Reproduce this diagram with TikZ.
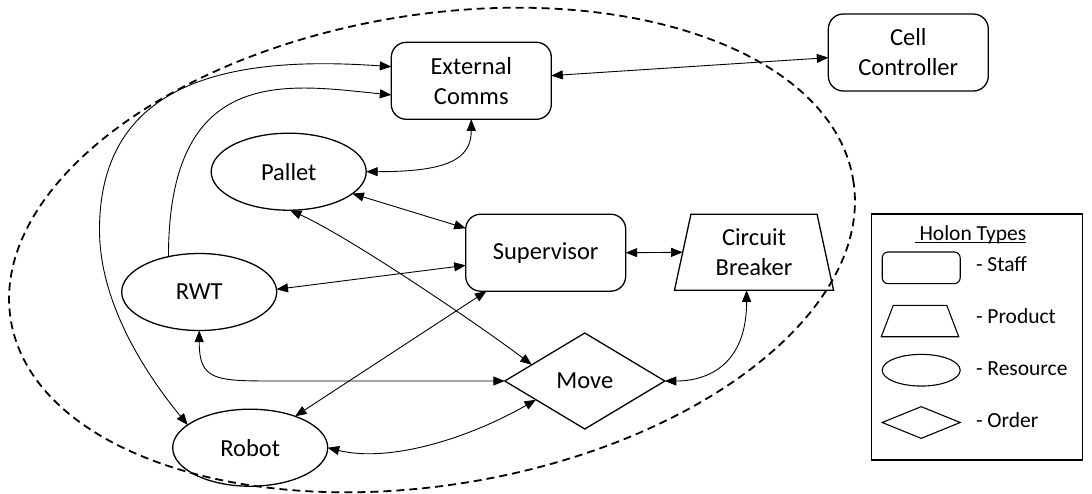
\documentclass[tikz,border=0pt]{standalone}
\usepackage{fontspec}
\setmainfont{Carlito}
\usetikzlibrary{shapes.geometric, arrows.meta}

% underline drawn at a fixed offset below the baseline
\newcommand\holonul[1]{\setbox0=\hbox{#1}\rlap{\rule[-2.6pt]{\wd0}{1.1pt}}\box0}

\begin{document}
\begin{tikzpicture}[x=1pt, y=-1pt,
  every node/.style={inner sep=0pt, outer sep=0pt},
  lbl/.style={font=\fontsize{24.5}{30}\selectfont, align=center},
  border/.style={draw, line width=1.3pt},
  staff/.style={lbl, border, rectangle, rounded corners=15pt,
                minimum width=160pt, minimum height=77pt},
  resource/.style={lbl, border, ellipse, minimum width=155pt, minimum height=77pt},
  product/.style={lbl, border, trapezium, trapezium angle=78, trapezium stretches=true,
                  minimum width=160pt, minimum height=76pt},
  order/.style={lbl, border, diamond, aspect=1.667, minimum width=160pt, minimum height=96pt},
  tip/.tip={Triangle[length=11.5pt, width=9pt]},
  link/.style={line width=0.9pt, tip-tip},
  onelink/.style={line width=0.9pt, -tip},
  boundary/.style={line width=1.8pt, dash pattern=on 8pt off 5pt},
  legtext/.style={anchor=base west, font=\fontsize{21.5}{26}\selectfont},
  keyshape/.style={draw, line width=1.1pt, inner sep=1pt}
]
\useasboundingbox (0,0) rectangle (1092,493);

% holarchy boundary
\draw[boundary, rotate around={9.5:(432,250)}] (432,250) ellipse [x radius=427, y radius=235];

% holons
\node[staff]    (ext)    at (471.3,80.8)  {External\\Comms};
\node[staff]    (cell)   at (908.3,52.5)  {Cell\\Controller};
\node[resource] (pallet) at (288.7,171.7) {Pallet};
\node[staff]    (sup)    at (545.7,252.7) {Supervisor};
\node[product]  (cb)     at (754,252.3)   {Circuit\\Breaker};
\node[resource] (rwt)    at (199.2,292)   {RWT};
\node[order]    (move)   at (584.8,381)   {Move};
\node[resource] (robot)  at (250.2,447.7) {Robot};

% bend points of the long connectors
\coordinate (rwtbend)   at (275,381);
\coordinate (outerbend) at (99.5,230);

% connectors
\draw[link] (ext) -- (cell);
\draw[link] (pallet.east) .. controls +(79,0) and +(0,41) .. (ext.south);
\draw[link] (pallet.-19) -- (sup.163);
\draw[link] (pallet.-88) .. controls +(60,27) and +(-50,-38) .. (move.163);
\draw[link] (rwt.2) -- (sup.189);
\draw[link] (sup.east) -- (cb.west);
\draw[link] (sup.213) -- (robot.35);
\draw[link] (rwt.south) .. controls +(0,50) and +(-60,0) .. (rwtbend) -- (move.west);
\draw[link] (robot.east) .. controls +(60,15) and +(-70,40) .. (move.201);
\draw[link] (cb.-101) .. controls +(0,88) and +(25,0) .. (move.east);
\draw[onelink] (rwt.131) .. controls +(0,-195) and +(-101,-10) .. (ext.190);
\draw[link] (robot.160) .. controls +(-46,-56) and +(0,70) .. (outerbend)
            .. controls +(0,-150) and +(-160,-11.5) .. (ext.170);

% legend
\node[draw, line width=1.1pt, minimum width=211.4pt, minimum height=246pt] (legend) at (977,337) {};
\node[legtext] (ltitle) at (914.7,240) {\holonul{\ Holon Types}};
\node[keyshape, rectangle, rounded corners=6pt, minimum width=78pt, minimum height=31.7pt] (kstaff) at (921.2,267.8) {};
\node[keyshape, trapezium, trapezium angle=77.4, trapezium stretches=true, minimum width=77.4pt, minimum height=31.4pt] (kproduct) at (920,321) {};
\node[keyshape, ellipse, minimum width=78pt, minimum height=31.7pt] (kresource) at (921.2,370.2) {};
\node[keyshape, diamond, aspect=2.46, minimum width=78pt, minimum height=31.7pt] (korder) at (921.2,422.5) {};
\node[legtext] (tstaff)    at (976,271)   {- Staff};
\node[legtext] (tproduct)  at (976,323.3) {- Product};
\node[legtext] (tresource) at (976,375.3) {- Resource};
\node[legtext] (torder)    at (976,427.7) {- Order};
\end{tikzpicture}
\end{document}
